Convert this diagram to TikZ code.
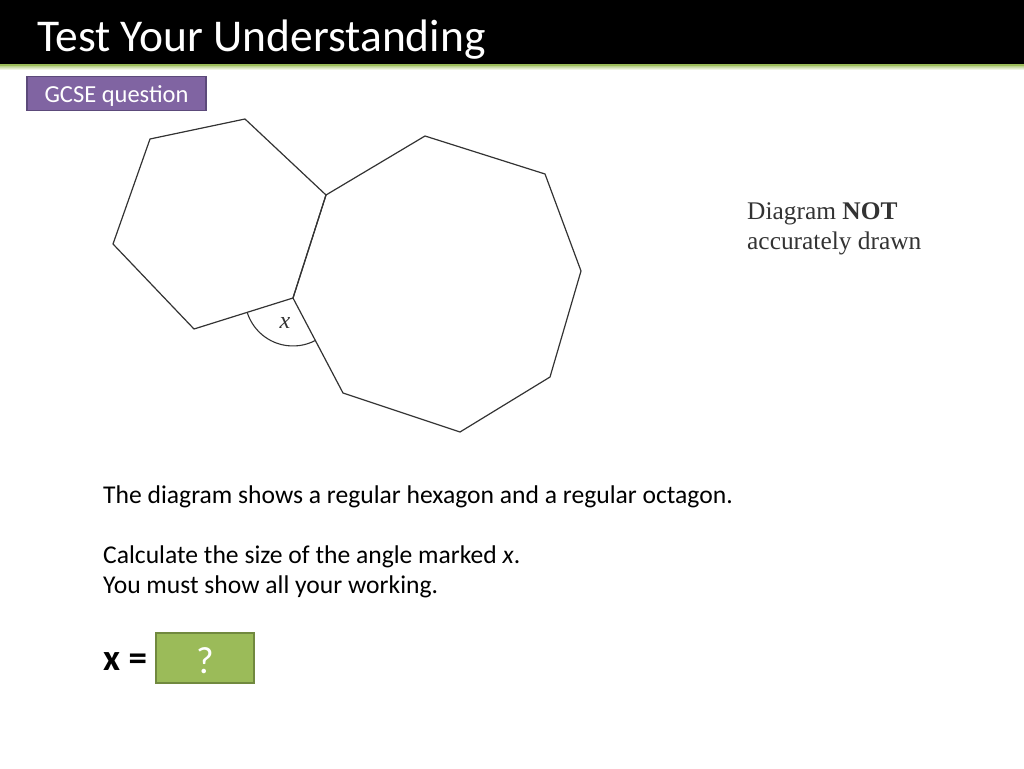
\documentclass[tikz,border=0pt]{standalone}
\usepackage{fontspec}
\usetikzlibrary{calc}
\setmainfont{Carlito}
\newfontfamily\timesfont{Liberation Serif}
\definecolor{gcsepurple}{HTML}{8064A2}
\definecolor{gcseborder}{HTML}{5C4A7A}
\definecolor{ansgreen}{HTML}{9BBB59}
\definecolor{ansborder}{HTML}{71893F}
\definecolor{shapeline}{HTML}{333333}
\begin{document}
\begin{tikzpicture}[x=1pt,y=-1pt,
  polyline/.style={draw=shapeline,line width=1.2pt,line join=round},
  bodytext/.style={anchor=base west,inner sep=0pt,font=\fontsize{25.6}{30}\selectfont},
  notetext/.style={anchor=base west,inner sep=0pt,text=shapeline,font=\timesfont\fontsize{25.4}{30}\selectfont}]
\useasboundingbox (0,0) rectangle (1024,768);
\fill[white] (0,0) rectangle (1024,768);
% title bar
\fill[black] (0,0) rectangle (1024,64);
\shade[top color=ansgreen, bottom color=white] (0,64) rectangle (1024,70);
\fill[ansgreen] (0,63.5) rectangle (1024,66);
\node[anchor=base west,inner sep=0pt,text=white,font=\fontsize{45.5}{50}\selectfont] (title) at (37,52) {Test Your Understanding};
% GCSE tag
\node[draw=gcseborder,line width=1.2pt,fill=gcsepurple,text=white,minimum width=179pt,minimum height=34pt,inner sep=0pt,text height=18pt,text depth=0pt,font=\fontsize{24.5}{28}\selectfont] (gcse) at (116.5,93.5) {GCSE question};
% hexagon
\coordinate (h1) at (150,139);
\coordinate (h2) at (245,119);
\coordinate (h3) at (326,195);
\coordinate (h4) at (293,298);
\coordinate (h5) at (194,329);
\coordinate (h6) at (113,244);
\draw[polyline] (h1) -- (h2) -- (h3) -- (h4) -- (h5) -- (h6) -- cycle;
% octagon
\coordinate (o2) at (425,136);
\coordinate (o3) at (545,174);
\coordinate (o4) at (581,271);
\coordinate (o5) at (550,377);
\coordinate (o6) at (460,432);
\coordinate (o7) at (343,393);
\draw[polyline] (h3) -- (o2) -- (o3) -- (o4) -- (o5) -- (o6) -- (o7) -- (h4) -- cycle;
% angle arc
\draw[draw=shapeline,line width=1.1pt] ($(h4)!48pt!(h5)$) arc[start angle=197.4, end angle=297.8, radius=48pt];
\node[font=\timesfont\itshape\fontsize{24}{28}\selectfont,text=shapeline] (xlabel) at (285,323) {x};
% note
\node[notetext] (note1) at (747,219) {Diagram \textbf{NOT}};
\node[notetext] (note2) at (747,249) {accurately drawn};
% question text
\node[bodytext] (q1) at (103,503) {The diagram shows a regular hexagon and a regular octagon.};
\node[bodytext] (q2) at (103,563) {Calculate the size of the angle marked \textit{x}.};
\node[bodytext] (q3) at (103,593) {You must show all your working.};
% answer
\node[anchor=base west,inner sep=0pt,font=\bfseries\fontsize{37}{40}\selectfont] (xeq) at (103,670) {x =};
\node[draw=ansborder,line width=1.8pt,fill=ansgreen,text=white,minimum width=98pt,minimum height=50pt,inner sep=0pt,text height=30pt,text depth=0pt,font=\fontsize{38}{42}\selectfont] (ans) at (205,658) {?};
\end{tikzpicture}
\end{document}
